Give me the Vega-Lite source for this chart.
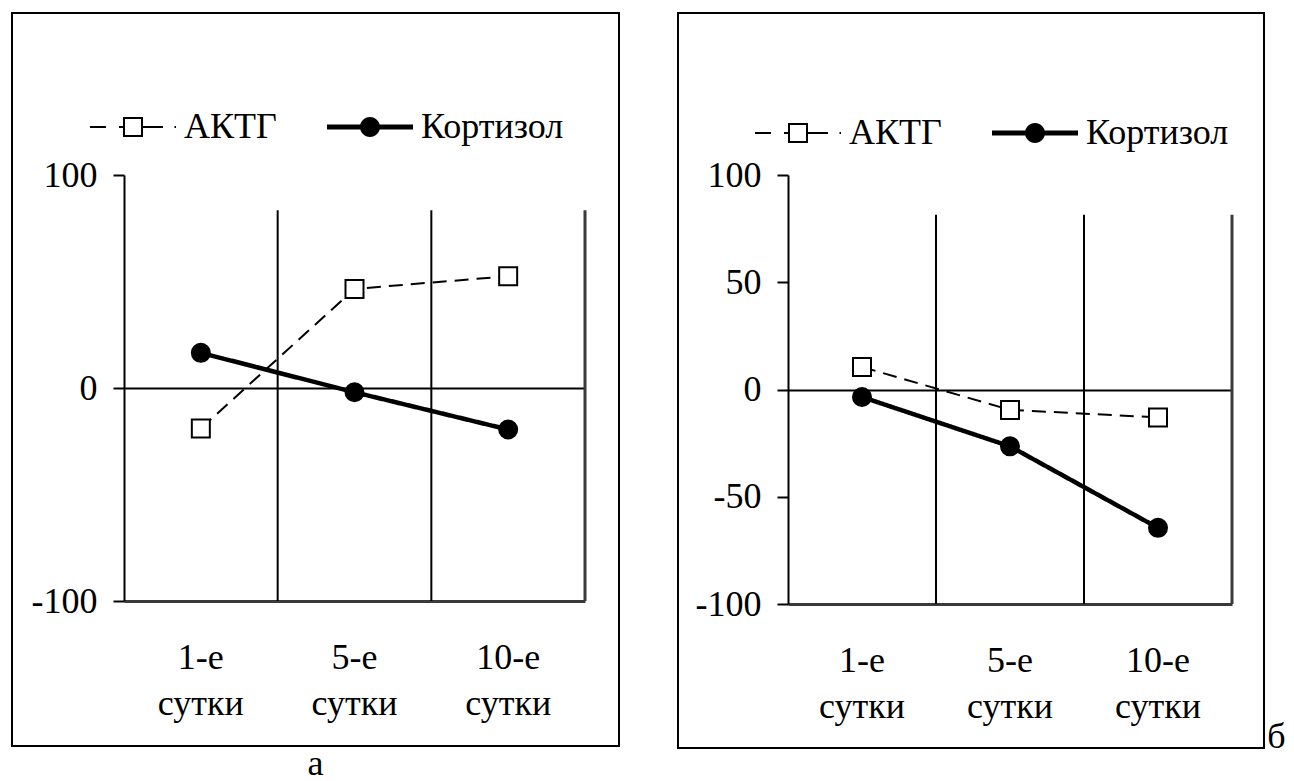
{
  "$schema": "https://vega.github.io/schema/vega-lite/v6.json",
  "background": "white",
  "padding": {"left": 11, "top": 12, "right": 0, "bottom": 0},
  "spacing": 57,
  "config": {
    "view": {"stroke": "black", "strokeWidth": 2},
    "font": "Liberation Serif"
  },
  "datasets": {
    "a": [
      {"day": "1-е сутки", "series": "АКТГ", "value": -19},
      {"day": "5-е сутки", "series": "АКТГ", "value": 46.5},
      {"day": "10-е сутки", "series": "АКТГ", "value": 52.5},
      {"day": "1-е сутки", "series": "Кортизол", "value": 16.5},
      {"day": "5-е сутки", "series": "Кортизол", "value": -2},
      {"day": "10-е сутки", "series": "Кортизол", "value": -19.5}
    ],
    "b": [
      {"day": "1-е сутки", "series": "АКТГ", "value": 10.5},
      {"day": "5-е сутки", "series": "АКТГ", "value": -9.5},
      {"day": "10-е сутки", "series": "АКТГ", "value": -13},
      {"day": "1-е сутки", "series": "Кортизол", "value": -3.5},
      {"day": "5-е сутки", "series": "Кортизол", "value": -26.5},
      {"day": "10-е сутки", "series": "Кортизол", "value": -64.5}
    ]
  },
  "hconcat": [
    {
      "data": {"name": "a"},
      "width": 607,
      "height": 733,
      "title": {"text": "а", "orient": "bottom", "offset": 29, "fontSize": 36, "font": "Liberation Serif", "fontWeight": "normal", "baseline": "alphabetic", "color": "black", "anchor": "middle"},
      "encoding": {
        "x": {
          "field": "day", "type": "nominal", "sort": ["1-е сутки", "5-е сутки", "10-е сутки"],
          "scale": {"domain": ["1-е сутки", "5-е сутки", "10-е сутки"], "range": [112, 573], "paddingInner": 0, "paddingOuter": 0},
          "axis": {
            "title": null, "orient": "bottom", "offset": -145, "ticks": false,
            "domainColor": "#3a3a3a", "domainWidth": 3, "labelAngle": 0, "labelBaseline": "top",
            "labelPadding": 39, "labelLineHeight": 46, "labelExpr": "split(datum.label, ' ')",
            "labelFont": "Liberation Serif", "labelFontSize": 36, "labelColor": "black",
            "labelOverlap": false, "labelLimit": 0, "grid": false
          }
        },
        "y": {
          "field": "value", "type": "quantitative",
          "scale": {"domain": [-100, 100], "range": [588, 162], "nice": false, "zero": false},
          "axis": {
            "title": null, "orient": "left", "offset": -112, "values": [-100, 0, 100],
            "labelExpr": "'' + datum.value",
            "domainColor": "black", "domainWidth": 2, "tickColor": "black", "tickWidth": 2, "tickSize": 11,
            "labelFont": "Liberation Serif", "labelFontSize": 36, "labelColor": "black",
            "labelPadding": 16, "grid": true, "gridColor": "black", "gridWidth": 2,
            "gridOpacity": {"condition": {"test": "datum.value === 0", "value": 1}, "value": 0}
          }
        }
      },
      "layer": [
        {
          "transform": [{"filter": "datum.series === 'АКТГ'"}],
          "mark": {"type": "rule"},
          "encoding": {
            "x": {"field": "day", "type": "nominal", "bandPosition": 1},
            "y": {"datum": -100},
            "y2": {"datum": 83.5},
            "color": {"condition": {"test": "datum.day === '10-е сутки'", "value": "#3a3a3a"}, "value": "black"},
            "strokeWidth": {"condition": {"test": "datum.day === '10-е сутки'", "value": 3}, "value": 2}
          }
        },
        {
          "mark": {"type": "line", "color": "black", "strokeCap": "butt"},
          "encoding": {
            "detail": {"field": "series", "type": "nominal"},
            "strokeDash": {"condition": {"test": "datum.series === 'АКТГ'", "value": [14, 8]}, "value": [1, 0]},
            "strokeWidth": {"condition": {"test": "datum.series === 'Кортизол'", "value": 4.5}, "value": 2}
          }
        },
        {
          "mark": {"type": "point", "filled": true, "stroke": "black", "strokeWidth": 2, "size": 324, "opacity": 1},
          "encoding": {
            "fill": {"condition": {"test": "datum.series === 'АКТГ'", "value": "white"}, "value": "black"},
            "shape": {"condition": {"test": "datum.series === 'АКТГ'", "value": "square"}, "value": "circle"}
          }
        },
        {
          "mark": {"type": "point", "filled": true, "color": "black", "opacity": 0},
          "encoding": {
            "shape": {
              "field": "series", "type": "nominal",
              "scale": {
                "domain": ["АКТГ", "Кортизол"],
                "range": [
                  "M-1,-0.0233H-0.628V0.0233H-1ZM-0.326,-0.0233H-0.2326V0.0233H-0.326ZM-0.2326,-0.2326H0.2326V0.2326H-0.2326ZM-0.186,-0.186V0.186H0.186V-0.186ZM0.2326,-0.0233H0.698V0.0233H0.2326ZM0.965,-0.0233H1V0.0233H0.965Z",
                  "M-1,-0.058H1V0.058H-1ZM-0.2326,0A0.2326,0.2326,0,1,1,0.2326,0A0.2326,0.2326,0,1,1,-0.2326,0Z"
                ]
              },
              "legend": {
                "title": null, "orient": "none", "legendX": 78, "legendY": 71, "direction": "horizontal", "columns": 2,
                "columnPadding": 50, "labelOffset": 8, "symbolSize": 7396, "symbolStrokeWidth": 0,
                "symbolOpacity": 1, "symbolFillColor": "black", "padding": 0,
                "labelLimit": 400, "labelFontSize": 36, "labelFont": "Liberation Serif", "labelColor": "black"
              }
            }
          }
        }
      ]
    },
    {
      "data": {"name": "b"},
      "width": 586,
      "height": 735,
      "title": {"text": "б", "orient": "right", "angle": 0, "anchor": "end", "align": "left", "baseline": "alphabetic", "offset": -15, "fontSize": 36, "font": "Liberation Serif", "fontWeight": "normal", "color": "black"},
      "encoding": {
        "x": {
          "field": "day", "type": "nominal", "sort": ["1-е сутки", "5-е сутки", "10-е сутки"],
          "scale": {"domain": ["1-е сутки", "5-е сутки", "10-е сутки"], "range": [110, 554], "paddingInner": 0, "paddingOuter": 0},
          "axis": {
            "title": null, "orient": "bottom", "offset": -144, "ticks": false,
            "domainColor": "#3a3a3a", "domainWidth": 3, "labelAngle": 0, "labelBaseline": "top",
            "labelPadding": 39, "labelLineHeight": 46, "labelExpr": "split(datum.label, ' ')",
            "labelFont": "Liberation Serif", "labelFontSize": 36, "labelColor": "black",
            "labelOverlap": false, "labelLimit": 0, "grid": false
          }
        },
        "y": {
          "field": "value", "type": "quantitative",
          "scale": {"domain": [-100, 100], "range": [591, 162], "nice": false, "zero": false},
          "axis": {
            "title": null, "orient": "left", "offset": -110, "values": [-100, -50, 0, 50, 100],
            "labelExpr": "'' + datum.value",
            "domainColor": "black", "domainWidth": 2, "tickColor": "black", "tickWidth": 2, "tickSize": 11,
            "labelFont": "Liberation Serif", "labelFontSize": 36, "labelColor": "black",
            "labelPadding": 16, "grid": true, "gridColor": "black", "gridWidth": 2,
            "gridOpacity": {"condition": {"test": "datum.value === 0", "value": 1}, "value": 0}
          }
        }
      },
      "layer": [
        {
          "transform": [{"filter": "datum.series === 'АКТГ'"}],
          "mark": {"type": "rule"},
          "encoding": {
            "x": {"field": "day", "type": "nominal", "bandPosition": 1},
            "y": {"datum": -100},
            "y2": {"datum": 81.5},
            "color": {"condition": {"test": "datum.day === '10-е сутки'", "value": "#3a3a3a"}, "value": "black"},
            "strokeWidth": {"condition": {"test": "datum.day === '10-е сутки'", "value": 3}, "value": 2}
          }
        },
        {
          "mark": {"type": "line", "color": "black", "strokeCap": "butt"},
          "encoding": {
            "detail": {"field": "series", "type": "nominal"},
            "strokeDash": {"condition": {"test": "datum.series === 'АКТГ'", "value": [14, 8]}, "value": [1, 0]},
            "strokeWidth": {"condition": {"test": "datum.series === 'Кортизол'", "value": 4.5}, "value": 2}
          }
        },
        {
          "mark": {"type": "point", "filled": true, "stroke": "black", "strokeWidth": 2, "size": 324, "opacity": 1},
          "encoding": {
            "fill": {"condition": {"test": "datum.series === 'АКТГ'", "value": "white"}, "value": "black"},
            "shape": {"condition": {"test": "datum.series === 'АКТГ'", "value": "square"}, "value": "circle"}
          }
        },
        {
          "mark": {"type": "point", "filled": true, "color": "black", "opacity": 0},
          "encoding": {
            "shape": {
              "field": "series", "type": "nominal",
              "scale": {
                "domain": ["АКТГ", "Кортизол"],
                "range": [
                  "M-1,-0.0233H-0.628V0.0233H-1ZM-0.326,-0.0233H-0.2326V0.0233H-0.326ZM-0.2326,-0.2326H0.2326V0.2326H-0.2326ZM-0.186,-0.186V0.186H0.186V-0.186ZM0.2326,-0.0233H0.698V0.0233H0.2326ZM0.965,-0.0233H1V0.0233H0.965Z",
                  "M-1,-0.058H1V0.058H-1ZM-0.2326,0A0.2326,0.2326,0,1,1,0.2326,0A0.2326,0.2326,0,1,1,-0.2326,0Z"
                ]
              },
              "legend": {
                "title": null, "orient": "none", "legendX": 77, "legendY": 77, "direction": "horizontal", "columns": 2,
                "columnPadding": 50, "labelOffset": 8, "symbolSize": 7396, "symbolStrokeWidth": 0,
                "symbolOpacity": 1, "symbolFillColor": "black", "padding": 0,
                "labelLimit": 400, "labelFontSize": 36, "labelFont": "Liberation Serif", "labelColor": "black"
              }
            }
          }
        }
      ]
    }
  ],
  "resolve": {
    "scale": {"shape": "independent"},
    "legend": {"shape": "independent"}
  }
}
